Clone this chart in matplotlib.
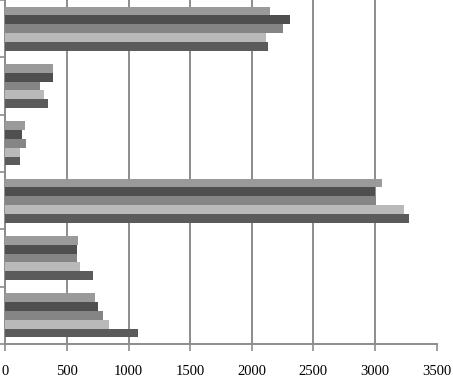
import matplotlib

matplotlib.use("Agg")
import matplotlib.pyplot as plt
import numpy as np

# groups listed top to bottom, five series per group (top bar first)
groups = ["g1", "g2", "g3", "g4", "g5", "g6"]
series_1 = [2150, 390, 163, 3055, 592, 730]
series_2 = [2307, 388, 136, 3000, 578, 755]
series_3 = [2253, 285, 168, 3010, 581, 790]
series_4 = [2117, 312, 122, 3235, 605, 845]
series_5 = [2134, 350, 119, 3280, 711, 1080]
xticks = [0, 500, 1000, 1500, 2000, 2500, 3000, 3500]

series = [series_1, series_2, series_3, series_4, series_5]
colors = ["#9a9a9a", "#4f4f4f", "#858585", "#b9b9b9", "#5b5b5b"]

plt.rcParams["font.family"] = ["Liberation Serif", "DejaVu Serif"]

fig = plt.figure(figsize=(4.53, 3.77), dpi=100)
ax = fig.add_axes([5.3 / 453, 33 / 377, (436.5 - 5.3) / 453, 344 / 377])

y = np.arange(len(groups))
h = 0.154
for k, (vals, col) in enumerate(zip(series, colors)):
    ax.barh(y + (k - 2) * h, vals, h, color=col, zorder=3)

ax.set_xlim(0, 3500)
ax.set_ylim(len(groups) - 0.5, -0.5)
ax.set_xticks(xticks)
ax.set_yticks(np.arange(len(groups) + 1) - 0.5)
ax.set_yticklabels([])
ax.grid(axis="x", color="#8c8c8c", linewidth=1.4, zorder=0)
ax.tick_params(axis="x", length=5, color="#8c8c8c", width=1.2, labelsize=10.5, pad=10)
ax.tick_params(axis="y", length=5, color="#8c8c8c", width=1.2)
for side in ("top", "right"):
    ax.spines[side].set_visible(False)
for side in ("left", "bottom"):
    ax.spines[side].set_color("#8c8c8c")
    ax.spines[side].set_linewidth(1.4)

fig.savefig("out.png", dpi=100)
